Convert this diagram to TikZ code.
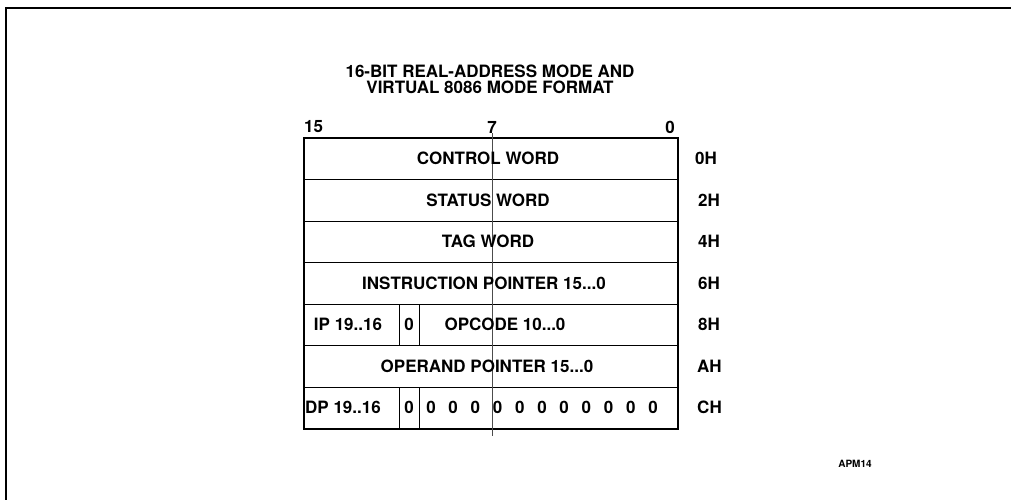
\documentclass[tikz,border=0pt]{standalone}
\usepackage{fontspec}
\setmainfont{TeX Gyre Heros}
\usepackage{tikz}

\begin{document}
\begin{tikzpicture}[x=1pt,y=-1pt,line join=miter,
                    every node/.style={font=\bfseries\fontsize{17}{19}\selectfont, inner sep=0pt},
                    field/.style={anchor=center},
                    offs/.style={anchor=west},
                    ttl/.style={font=\bfseries\fontsize{17}{19}\selectfont}]
\useasboundingbox (0,0) rectangle (1011,500);
% outer frame (cut off at right and bottom)
\draw[line width=2pt] (1011,8) -- (6,8) -- (6,500);
% title
\node[ttl] (title1) at (490,71) {16-BIT REAL-ADDRESS MODE AND};
\node[ttl] (title2) at (490,87) {VIRTUAL 8086 MODE FORMAT};
% bit numbers
\node[anchor=west] (b15) at (304,127) {15};
\node (b7) at (492,127) {7};
\node[anchor=east] (b0) at (675,127) {0};
% table
\draw[line width=1.6pt] (304,138) rectangle (678,429);
\foreach \y in {179.5,221,262.5,304,345.5,387}
  \draw[line width=0.8pt] (304,\y) -- (678,\y);
\draw[line width=0.5pt, black!70] (492,133) -- (492,436);
\draw[line width=0.8pt] (399,304) -- (399,345.5) (419,304) -- (419,345.5);
\draw[line width=0.8pt] (399,387) -- (399,429) (419,387) -- (419,429);
% fields
\node[field] (ctrl) at (488,158.5) {CONTROL WORD};
\node[field] (stat) at (488,200) {STATUS WORD};
\node[field] (tag) at (488,241.5) {TAG WORD};
\node[field] (ip) at (484,283) {INSTRUCTION POINTER 15...0};
\node[field] (iphi) at (348,324.5) {IP 19..16};
\node[field] (ipz) at (409,324.5) {0};
\node[field] (opc) at (505,324.5) {OPCODE 10...0};
\node[field] (op) at (487,366) {OPERAND POINTER 15...0};
\node[anchor=west] (dphi) at (305,407.5) {DP 19..16};
\node[field] (dpz) at (409,407.5) {0};
\foreach \i in {0,...,10}
  \node[field] (z\i) at (431+22.2*\i,407.5) {0};
% offsets
\node[offs] (o0) at (695,158.5) {0H};
\node[offs] (o2) at (698,200) {2H};
\node[offs] (o4) at (698,241.5) {4H};
\node[offs] (o6) at (698,283) {6H};
\node[offs] (o8) at (698,324.5) {8H};
\node[offs] (oa) at (697,366) {AH};
\node[offs] (oc) at (697,407.5) {CH};
% figure tag
\node[font=\bfseries\fontsize{10}{12}\selectfont] (tag14) at (855,464) {APM14};
\end{tikzpicture}
\end{document}
